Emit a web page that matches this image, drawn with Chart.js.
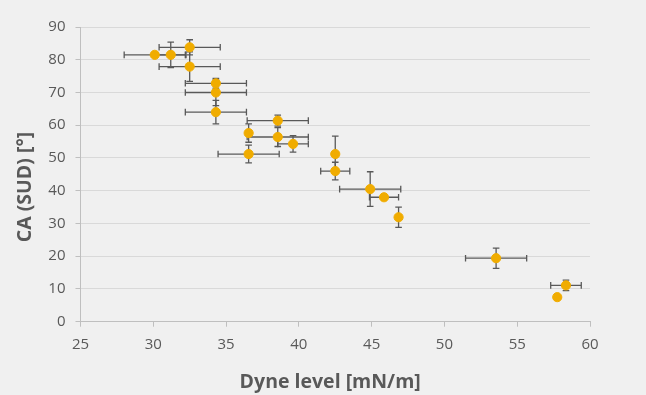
<!DOCTYPE html>
<html>
<head>
<meta charset="utf-8">
<script src="https://cdn.jsdelivr.net/npm/chart.js@4"></script>
<style>
  body { margin: 0; background: #f0f0f0; }
  #wrap { width: 646px; height: 395px; }
</style>
</head>
<body>
<div id="wrap"><canvas id="caChart" width="646" height="395"></canvas></div>
<script>
const dyneLevel    = [30.1, 31.2, 32.5, 32.5, 34.3, 34.3, 34.3, 36.55, 36.55, 38.55, 38.55, 39.6, 42.5, 42.5, 44.9, 45.85, 46.85, 53.55, 58.35, 57.75];
const contactAngle = [81.5, 81.5, 83.8, 77.9, 72.8, 70.0, 64.0, 57.6, 51.2, 61.4, 56.4, 54.3, 51.2, 46.0, 40.5, 38.0, 31.9, 19.4, 11.1, 7.5];
const dyneErr      = [2.1, 1.05, 2.1, 2.1, 2.1, 2.1, 2.1, 0, 2.1, 2.1, 2.1, 1.05, 0, 1.0, 2.1, 1.0, 0, 2.1, 1.05, 0];
const angleErr     = [0, 3.9, 2.3, 4.5, 1.5, 4.0, 3.6, 2.8, 2.7, 1.7, 2.9, 2.5, 5.5, 2.7, 5.3, 0, 3.1, 3.1, 1.6, 0];

const xTicks = [25, 30, 35, 40, 45, 50, 55, 60];
const yTicks = [0, 10, 20, 30, 40, 50, 60, 70, 80, 90];

const gray = '#595959';

// draws the x/y error bars under the dots
const errorBars = {
    id: 'errorBars',
    beforeDatasetsDraw(chart) {
        const ctx = chart.ctx;
        const x = chart.scales.x, y = chart.scales.y;
        const cap = 3.3;
        ctx.save();
        ctx.strokeStyle = gray;
        ctx.lineWidth = 1.3;
        dyneLevel.forEach((v, i) => {
            const px = x.getPixelForValue(v);
            const py = y.getPixelForValue(contactAngle[i]);
            ctx.beginPath();
            if (dyneErr[i]) {
                const l = x.getPixelForValue(v - dyneErr[i]);
                const r = x.getPixelForValue(v + dyneErr[i]);
                ctx.moveTo(l, py); ctx.lineTo(r, py);
                ctx.moveTo(l, py - cap); ctx.lineTo(l, py + cap);
                ctx.moveTo(r, py - cap); ctx.lineTo(r, py + cap);
            }
            if (angleErr[i]) {
                const t = y.getPixelForValue(contactAngle[i] + angleErr[i]);
                const b = y.getPixelForValue(contactAngle[i] - angleErr[i]);
                ctx.moveTo(px, t); ctx.lineTo(px, b);
                ctx.moveTo(px - cap, t); ctx.lineTo(px + cap, t);
                ctx.moveTo(px - cap, b); ctx.lineTo(px + cap, b);
            }
            ctx.stroke();
        });
        ctx.restore();
    }
};

let caChart = new Chart("caChart", {
    type: "scatter",
    data: {
        datasets: [{
            label: 'CA',
            data: dyneLevel.map((v, i) => ({ x: v, y: contactAngle[i] })),
            backgroundColor: 'rgb(240,172,0)',
            borderColor: 'rgb(240,172,0)',
            pointRadius: 4.6,
            pointHoverRadius: 4.6
        }]
    },
    options: {
        responsive: false,
        animation: false,
        layout: { padding: { top: 27, right: 56, left: 0, bottom: 0 } },
        plugins: {
            legend: { display: false },
            tooltip: { enabled: false }
        },
        scales: {
            x: {
                type: 'linear',
                min: 25,
                max: 60,
                afterBuildTicks: s => { s.ticks = xTicks.map(v => ({ value: v })); },
                afterFit: s => { s.height = 73.3; },
                grid: { drawOnChartArea: false, tickLength: 5, tickColor: '#bfbfbf' },
                border: { color: '#bfbfbf' },
                ticks: { color: gray, font: { family: 'Open Sans', size: 15 }, padding: 9 },
                title: {
                    display: true,
                    // trailing spaces nudge the title a bit left, like the original
                    text: 'Dyne level [mN/m]  ',
                    color: gray,
                    font: { family: 'Open Sans', size: 19.5, weight: 'bold' },
                    padding: { top: 0, bottom: 1 }
                }
            },
            y: {
                min: 0,
                max: 90,
                afterBuildTicks: s => { s.ticks = yTicks.map(v => ({ value: v })); },
                afterFit: s => { s.width = 80.5; },
                grid: { color: '#d9d9d9', tickLength: 5, tickColor: '#bfbfbf' },
                border: { color: '#bfbfbf' },
                ticks: { color: gray, font: { family: 'Open Sans', size: 15 }, padding: 10 },
                title: {
                    display: true,
                    text: 'CA (SUD) [°]     ',
                    color: gray,
                    font: { family: 'Open Sans', size: 19.5, weight: 'bold' },
                    padding: { top: 14, bottom: 0 }
                }
            }
        }
    },
    plugins: [errorBars]
});
</script>
</body>
</html>
